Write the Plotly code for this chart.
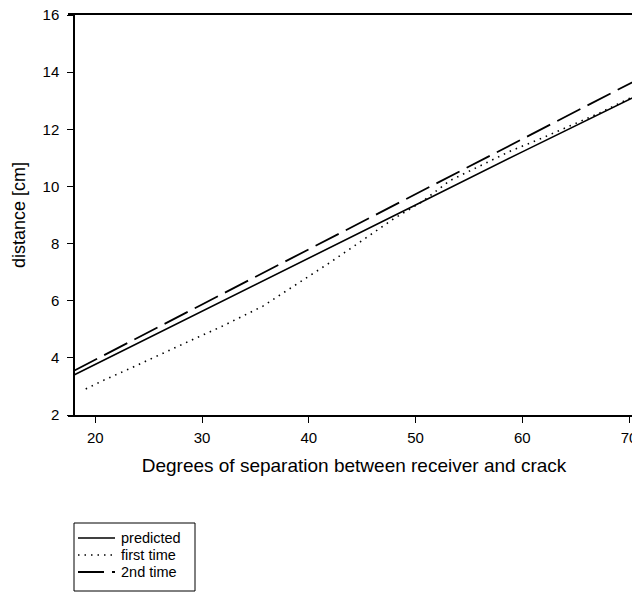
import plotly.graph_objects as go

# ---- data ----
pred_x = [18, 20, 30, 40, 50, 60, 71]
pred_y = [3.40, 3.77, 5.63, 7.49, 9.35, 11.21, 13.22]

first_x = [19.1, 20.8, 23.5, 26.3, 29.0, 31.8, 34.5, 35.7, 37.3, 39.5, 42.0, 44.0, 46.0,
           48.0, 50.6, 53.2, 56.0, 58.9, 61.9, 64.7, 67.3, 69.8, 71.0]
first_y = [2.91, 3.22, 3.67, 4.16, 4.62, 5.09, 5.58, 5.81, 6.20, 6.72, 7.34, 7.85, 8.38,
           8.88, 9.46, 10.20, 10.71, 11.24, 11.70, 12.15, 12.58, 13.04, 13.24]

second_x = [18, 20, 30, 40, 50, 60, 71]
second_y = [3.55, 3.94, 5.87, 7.80, 9.73, 11.66, 13.78]

series_names = ["predicted", "first time", "2nd time"]

x_ticks = [20, 30, 40, 50, 60, 70]
y_ticks = [2, 4, 6, 8, 10, 12, 14, 16]

FONT = "Liberation Sans, Arial, Helvetica, sans-serif"

# The page body has the browser's default 8px margin, so the figure is drawn
# 8px right/down inside the 640x592 window; size the figure to fit the window.
OFF = 8
W, H = 640 - OFF, 592 - OFF
ML, MR, MT, MB = 60, 0, 7, 177
PW, PH = W - ML - MR, H - MT - MB


def px_x(p):  # window pixel -> paper fraction
    return (p - OFF - ML) / PW


def px_y(p):
    return (H - MB - (p - OFF)) / PH


styles = [
    dict(color="black", width=1.6),
    dict(color="black", width=1.6, dash="1.5px,5px"),
    dict(color="black", width=1.8, dash="26px,8px"),
]
xs = [pred_x, first_x, second_x]
ys = [pred_y, first_y, second_y]

fig = go.Figure()
for name, x, y, st in zip(series_names, xs, ys, styles):
    fig.add_trace(go.Scatter(x=x, y=y, mode="lines", name=name, line=st,
                             showlegend=False))

# ---- hand-drawn legend box (matches the reference's compact layout) ----
shapes = [dict(type="rect", xref="paper", yref="paper",
               x0=px_x(74), x1=px_x(195), y0=px_y(523), y1=px_y(591),
               line=dict(color="black", width=1), fillcolor="white", layer="above")]
annotations = []
rows = [538, 555, 572]
for name, st, ry in zip(series_names, styles, rows):
    shapes.append(dict(type="line", xref="paper", yref="paper",
                       x0=px_x(78), x1=px_x(115), y0=px_y(ry), y1=px_y(ry),
                       line=st, layer="above"))
    annotations.append(dict(text=name, xref="paper", yref="paper",
                            x=px_x(119), y=px_y(ry), xanchor="left", yanchor="middle",
                            showarrow=False, font=dict(size=14.5, family=FONT, color="black")))

fig.update_layout(
    template="none",
    width=W, height=H,
    margin=dict(l=ML, r=MR, t=MT, b=MB, autoexpand=False),
    paper_bgcolor="white", plot_bgcolor="white",
    font=dict(family=FONT, color="black", size=15),
    showlegend=False,
    shapes=shapes,
    annotations=annotations,
    xaxis=dict(range=[17.44, 71.03], tickvals=x_ticks, ticks="outside", ticklen=6,
               tickwidth=1, tickcolor="black", showline=True, linecolor="black",
               linewidth=1.5, mirror=True, showgrid=False, zeroline=False,
               automargin=False, tickfont=dict(size=15), ticklabelstandoff=2,
               ticklabeloverflow="allow",
               title=dict(text="Degrees of separation between receiver and crack",
                          font=dict(size=19), standoff=14)),
    yaxis=dict(range=[2, 16], tickvals=y_ticks, ticks="outside", ticklen=6,
               tickwidth=1, tickcolor="black", showline=True, linecolor="black",
               linewidth=1.5, showgrid=False, zeroline=False,
               anchor="free", position=6 / PW, automargin=False,
               tickfont=dict(size=15), ticklabelstandoff=5,
               ticklabeloverflow="allow",
               title=dict(text="distance [cm]", font=dict(size=18), standoff=11)),
)

fig.write_html("out.html")
